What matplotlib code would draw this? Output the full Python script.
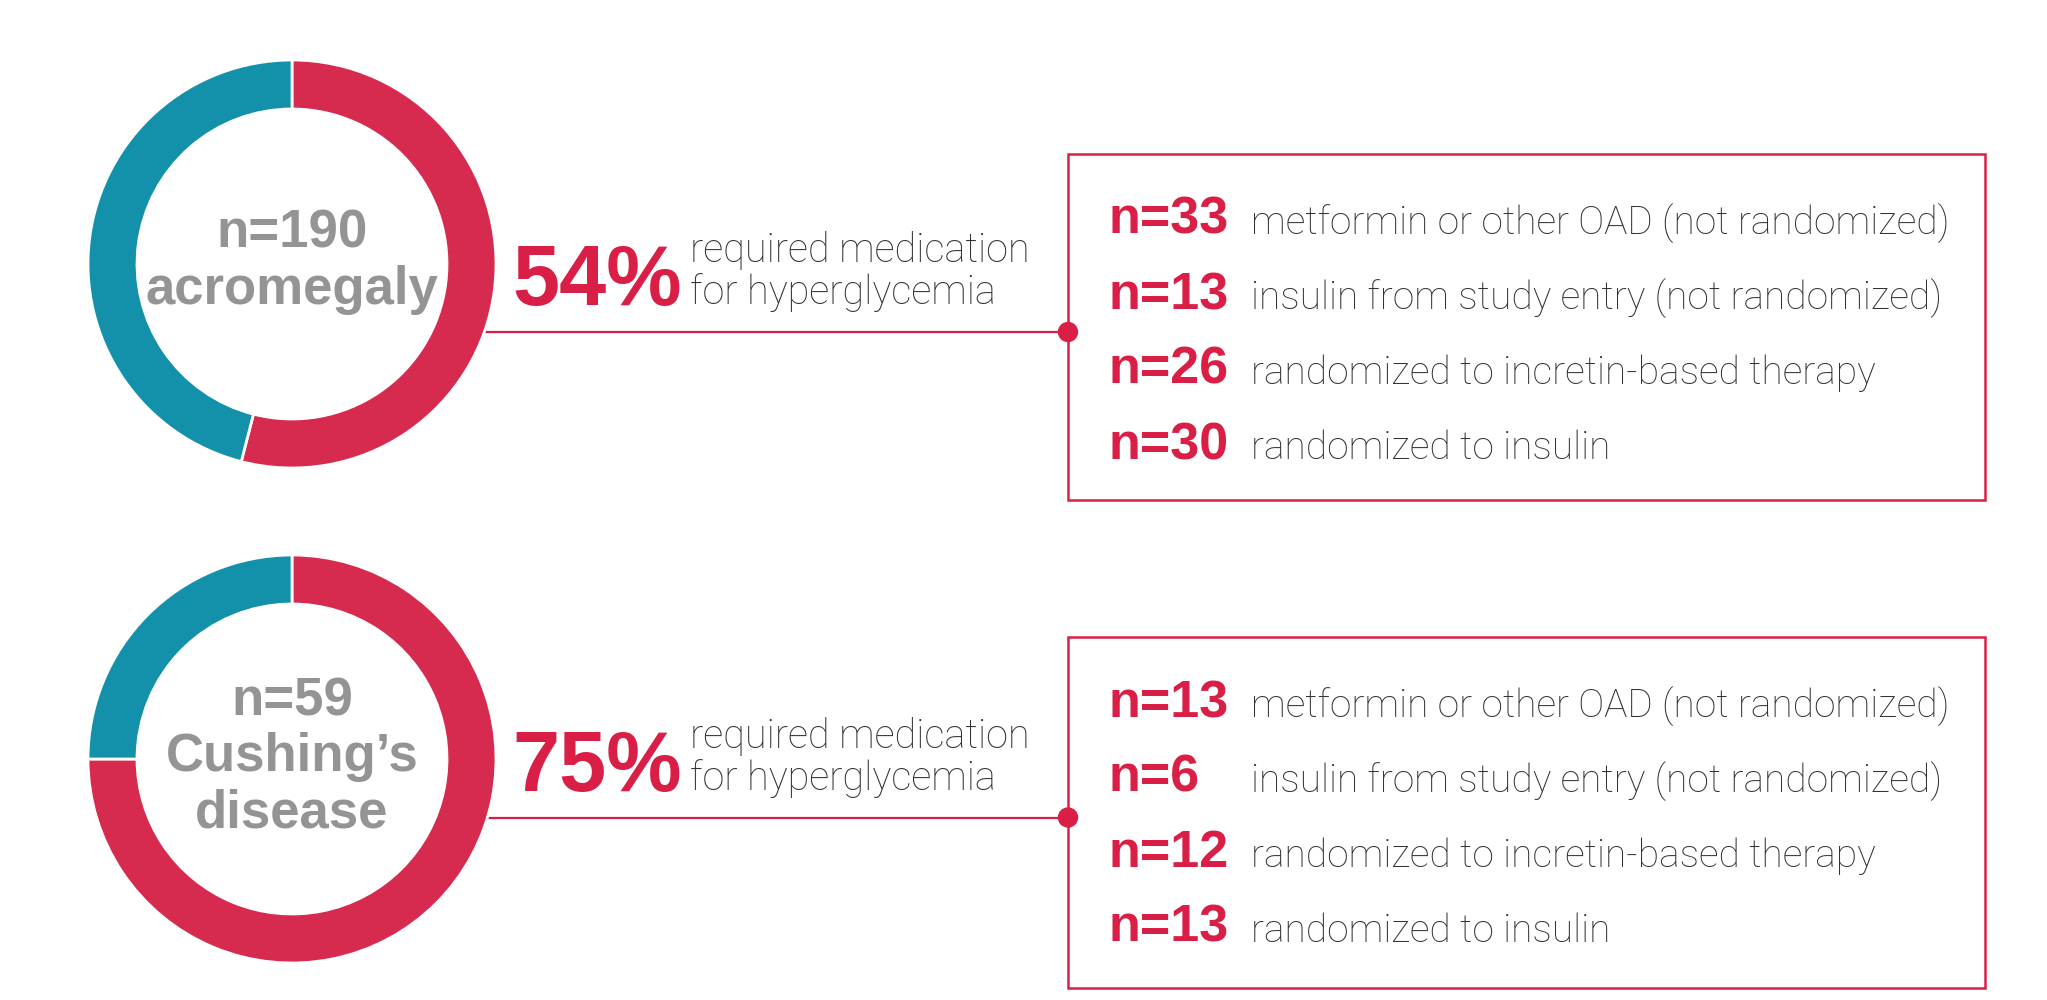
import matplotlib.pyplot as plt
from matplotlib.patches import Circle, Rectangle

# study groups and how many needed glucose-lowering medication
group_names = ["acromegaly", "Cushing’s\ndisease"]
group_n = [190, 59]
pct_required = [54, 75]

treatments = [
    "metformin or other OAD (not randomized)",
    "insulin from study entry (not randomized)",
    "randomized to incretin-based therapy",
    "randomized to insulin",
]
acromegaly_counts = [33, 13, 26, 30]
cushing_counts = [13, 6, 12, 13]
counts = [acromegaly_counts, cushing_counts]

RED = "#D62A4E"
RED_TXT = "#DA1F47"
TEAL = "#1391AA"
GRAY = "#949494"
DARK = "#333333"

W, H = 2047, 1000
fig = plt.figure(figsize=(W / 100, H / 100), dpi=100)
ax = fig.add_axes([0, 0, 1, 1])

def py(y):
    # pixel rows run downward, data y runs upward
    return H - y

donut_x = 292
donut_y = [264, 759]
radius = 204
ring = 49
box_left, box_right = 1068, 1985
box_top = [154, 637]
box_h = [346, 351]

for i in range(2):
    cy = donut_y[i]
    top = box_top[i]
    line_y = top + box_h[i] / 2 + 5

    # connector from the ring to the box
    ax.plot([donut_x + 180, box_left], [py(line_y), py(line_y)], color=RED_TXT, lw=1.6, zorder=1)
    ax.add_patch(Circle((box_left, py(line_y)), 9.5, color=RED_TXT, zorder=4))

    ax.pie([pct_required[i], 100 - pct_required[i]], colors=[RED, TEAL],
           center=(donut_x, py(cy)), radius=radius, startangle=90, counterclock=False,
           wedgeprops=dict(width=ring, edgecolor="white", linewidth=2))
    for w in ax.patches[-2:]:
        w.set_zorder(2)

    # label in the middle of the ring
    lines = [f"n={group_n[i]}"] + group_names[i].split("\n")
    first = cy - (len(lines) - 1) * 28 + 12
    for k, s in enumerate(lines):
        ax.text(donut_x, py(first + k * 56), s, ha="center", va="baseline",
                fontsize=38, fontweight="bold", color=GRAY, family="Liberation Sans")

    # percentage callout
    ax.text(512, py(line_y - 27), f"{pct_required[i]}%", ha="left", va="baseline",
            fontsize=61, fontweight="bold", color=RED_TXT, family="Liberation Sans")
    ax.text(690, py(line_y - 70), "required medication", ha="left", va="baseline",
            fontsize=28.5, fontweight="light", color=DARK, family="Roboto")
    ax.text(690, py(line_y - 28), "for hyperglycemia", ha="left", va="baseline",
            fontsize=28.5, fontweight="light", color=DARK, family="Roboto")

    # breakdown box
    ax.add_patch(Rectangle((box_left, py(top + box_h[i])), box_right - box_left, box_h[i],
                           fill=False, edgecolor=RED_TXT, lw=1.8, zorder=3))
    for k, (c, t) in enumerate(zip(counts[i], treatments)):
        by = top + 80 + k * 75
        ax.text(1108, py(by), f"n={c}", ha="left", va="baseline",
                fontsize=37.5, fontweight="bold", color=RED_TXT, family="Liberation Sans")
        ax.text(1251, py(by), t, ha="left", va="baseline",
                fontsize=28, fontweight="light", color=DARK, family="Roboto")

ax.set_xlim(0, W)
ax.set_ylim(0, H)
ax.set_aspect("auto")
ax.axis("off")

fig.savefig("out.png", dpi=100, facecolor="white")
